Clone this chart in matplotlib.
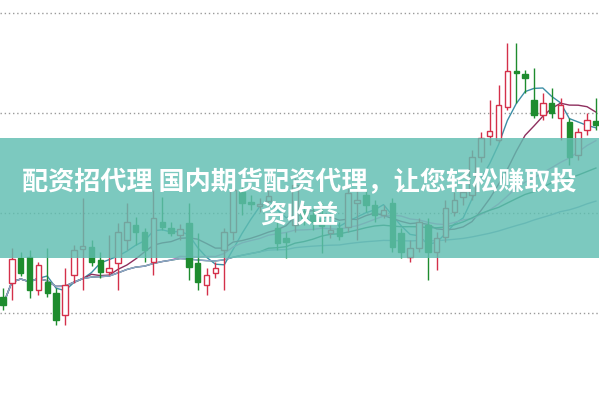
import numpy as np
import pandas as pd
import matplotlib
matplotlib.use("Agg")
import matplotlib.pyplot as plt
from matplotlib.patches import Rectangle

# daily OHLC
opens = [12.32, 12.60, 13.10, 13.12, 12.46, 12.62, 12.40, 11.96, 12.76, 13.28,
         13.32, 13.06, 12.82, 13.00, 13.46, 13.76, 13.62, 13.02, 13.82, 13.70,
         13.56, 13.80, 13.00, 12.56, 12.80, 13.26, 13.62, 14.42, 14.22, 14.14,
         14.24, 13.70, 13.50, 13.76, 14.02, 13.96, 13.86, 13.60, 13.70, 13.72,
         14.20, 14.36, 14.16, 13.96, 14.20, 13.60, 13.12, 13.30, 13.76, 13.22,
         13.52, 14.02, 14.32, 14.36, 15.12, 15.54, 15.46, 16.12, 16.84, 16.78,
         16.26, 15.96, 16.20, 15.90, 15.82, 15.16, 15.66, 15.84]
closes = [12.16, 13.08, 12.80, 12.46, 12.96, 12.40, 11.86, 12.56, 13.26, 13.34,
          13.02, 12.82, 12.90, 13.62, 13.82, 13.62, 13.26, 13.90, 13.72, 13.60,
          13.68, 12.92, 12.62, 12.76, 12.90, 13.62, 14.46, 14.20, 14.18, 14.18,
          14.34, 13.40, 13.42, 14.56, 13.90, 13.82, 13.74, 13.66, 13.54, 14.40,
          14.26, 14.16, 13.96, 14.06, 13.32, 13.22, 13.30, 13.82, 13.22, 13.50,
          14.10, 14.26, 14.42, 15.12, 15.50, 15.64, 16.16, 16.84, 16.80, 16.70,
          15.96, 16.20, 16.00, 16.16, 15.12, 15.62, 15.86, 15.76]
highs = [12.50, 13.30, 13.22, 13.26, 13.02, 13.30, 12.50, 12.90, 13.36, 14.30,
         13.46, 13.22, 13.56, 13.80, 14.20, 13.92, 13.70, 14.46, 14.32, 13.82,
         13.78, 14.20, 13.60, 12.90, 13.02, 13.70, 14.66, 14.66, 14.36, 14.30,
         14.50, 13.82, 13.62, 14.70, 14.16, 14.10, 14.20, 13.76, 13.82, 14.50,
         14.50, 14.46, 14.26, 14.16, 14.30, 13.70, 13.46, 13.90, 13.90, 13.62,
         14.26, 14.42, 14.62, 15.26, 15.62, 16.26, 16.56, 17.40, 17.40, 16.86,
         16.90, 16.40, 16.50, 16.30, 15.90, 15.70, 16.00, 16.30]
lows = [12.06, 12.26, 12.74, 12.30, 12.36, 12.32, 11.76, 11.76, 12.60, 12.46,
        12.94, 12.70, 12.76, 12.46, 13.26, 13.36, 13.02, 12.76, 13.66, 13.54,
        13.46, 12.66, 12.46, 12.36, 12.70, 12.46, 13.46, 13.96, 14.06, 14.02,
        14.14, 13.26, 13.10, 13.62, 13.76, 13.66, 13.20, 13.50, 13.46, 13.62,
        13.46, 14.02, 13.82, 13.90, 13.22, 13.10, 13.02, 13.22, 12.66, 12.86,
        13.42, 13.94, 14.16, 14.26, 15.02, 15.36, 15.42, 16.06, 16.20, 16.40,
        15.90, 15.86, 15.90, 15.46, 14.96, 15.06, 15.56, 15.66]

ma_windows = [5, 10, 20, 30, 60]
ma_colors = ["#3d8fa6", "#8e2f5e", "#e884d6", "#2e7d5c", "#8ea6c8"]

df = pd.DataFrame({"open": opens, "high": highs, "low": lows, "close": closes})
idx = np.arange(len(df))

fig = plt.figure(figsize=(5.99, 3.97), dpi=100)
ax = fig.add_axes([0, 0, 1, 1])

red = "#d4304a"
green = "#1e8c2e"
w = 0.62

for w_, c in zip(ma_windows, ma_colors):
    ma = df["close"].rolling(w_, min_periods=1).mean()
    ax.plot(idx, ma, color=c, lw=1, zorder=2)

for i, r in df.iterrows():
    up = r["close"] >= r["open"]
    col = red if up else green
    lo_b = min(r["open"], r["close"])
    hi_b = max(r["open"], r["close"])
    h = max(hi_b - lo_b, 0.03)
    ax.vlines(i, r["low"], lo_b, color=col, lw=1, zorder=3)
    ax.vlines(i, lo_b + h, r["high"], color=col, lw=1, zorder=3)
    ax.add_patch(Rectangle((i - w / 2, lo_b), w, h,
                           facecolor="white" if up else col,
                           edgecolor=col, lw=1, zorder=4))

ax.set_xlim(-0.34, 67.35)
ax.set_ylim(10.32, 18.26)
ax.set_yticks([12, 14, 16, 18])
ax.grid(axis="y", linestyle=(0, (1, 2)), color="#9a9a9a", lw=1)
ax.tick_params(length=0, labelleft=False, labelbottom=False)
for s in ax.spines.values():
    s.set_visible(False)

# teal banner with headline
fig.patches.append(Rectangle((0, 0.350), 1, 0.302, transform=fig.transFigure,
                             facecolor="#5fbeb1", alpha=0.82, zorder=10))
font = ["Noto Sans CJK SC", "DejaVu Sans"]
fig.text(0.5, 0.540, "配资招代理 国内期货配资代理，让您轻松赚取投", ha="center", va="center",
         fontsize=18.8, fontweight="bold", color="white", family=font, zorder=11)
fig.text(0.5, 0.458, "资收益", ha="center", va="center",
         fontsize=18.8, fontweight="bold", color="white", family=font, zorder=11)

fig.savefig("out.png", dpi=100)
